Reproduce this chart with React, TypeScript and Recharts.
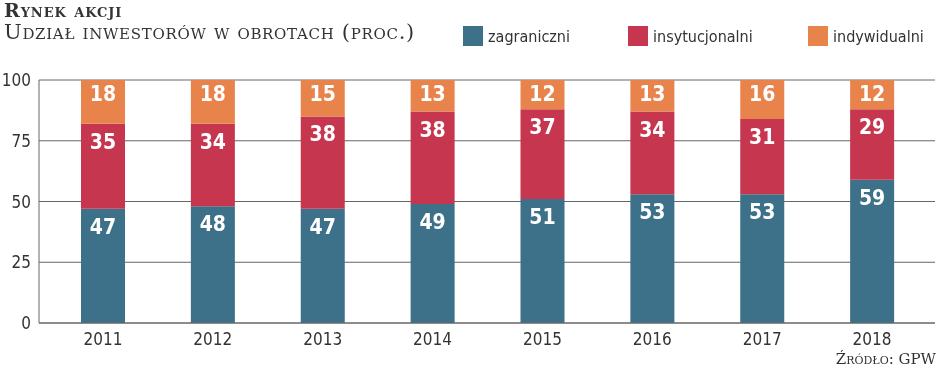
import { Bar, BarChart, CartesianGrid, LabelList, XAxis, YAxis } from "recharts";

const years = ["2011", "2012", "2013", "2014", "2015", "2016", "2017", "2018"];
const zagraniczni = [47, 48, 47, 49, 51, 53, 53, 59];
const instytucjonalni = [35, 34, 38, 38, 37, 34, 31, 29];
const indywidualni = [18, 18, 15, 13, 12, 13, 16, 12];
const yTicks = [0, 25, 50, 75, 100];

const BLUE = "#3d7089";
const RED = "#c6364f";
const ORANGE = "#e8834b";
const FONT = "'DejaVu Sans Condensed', 'DejaVu Sans', sans-serif";
const SERIF = "'DejaVu Serif', serif";

const data = years.map((y, i) => ({
  year: y,
  zag: zagraniczni[i],
  ins: instytucjonalni[i],
  ind: indywidualni[i],
}));

const legend = [
  { label: "zagraniczni", color: BLUE, x: 463 },
  { label: "insytucjonalni", color: RED, x: 628 },
  { label: "indywidualni", color: ORANGE, x: 808 },
];

const labelStyle = { fill: "#fff", fontSize: 21, fontWeight: "bold" as const, fontFamily: FONT };

export default function App() {
  return (
    <div style={{ position: "fixed", left: 0, top: 0, width: 948, height: 369, background: "#fff" }}>
      <div
        style={{
          position: "absolute",
          left: 4,
          top: 0,
          fontFamily: SERIF,
          fontVariant: "small-caps",
          color: "#333",
        }}
      >
        <div style={{ fontWeight: "bold", fontSize: 19, lineHeight: "20px", letterSpacing: 0.9 }}>Rynek akcji</div>
        <div style={{ fontSize: 21, lineHeight: "23px", marginTop: 1, letterSpacing: 0.7 }}>
          Udział inwestorów w obrotach (proc.)
        </div>
      </div>
      {legend.map((l) => (
        <div
          key={l.label}
          style={{
            position: "absolute",
            left: l.x,
            top: 26,
            display: "flex",
            alignItems: "center",
            fontFamily: FONT,
            fontSize: 16,
            color: "#333",
          }}
        >
          <span style={{ width: 20, height: 20, background: l.color, marginRight: 5, display: "inline-block" }} />
          {l.label}
        </div>
      ))}
      <div
        style={{
          position: "absolute",
          right: 12,
          top: 350,
          fontFamily: SERIF,
          fontVariant: "small-caps",
          fontSize: 15,
          color: "#333",
        }}
      >
        Źródło: GPW
      </div>
      <BarChart
        width={948}
        height={369}
        data={data}
        margin={{ top: 80, right: 13, left: 0, bottom: 16 }}
        barSize={44}
      >
        <CartesianGrid vertical={false} stroke="#666" strokeWidth={1} />
        <XAxis
          dataKey="year"
          height={30}
          padding={{ left: 9, right: 8 }}
          axisLine={{ stroke: "#666" }}
          tickLine={false}
          tick={{ fill: "#333", fontSize: 17, fontFamily: FONT }}
          dy={2}
        />
        <YAxis
          domain={[0, 100]}
          ticks={yTicks}
          width={39}
          axisLine={{ stroke: "#666" }}
          tickLine={false}
          tick={{ fill: "#333", fontSize: 17, fontFamily: FONT }}
          interval={0}
        />
        <Bar dataKey="zag" stackId="a" fill={BLUE} isAnimationActive={false}>
          <LabelList dataKey="zag" position="insideTop" offset={10} style={labelStyle} />
        </Bar>
        <Bar dataKey="ins" stackId="a" fill={RED} isAnimationActive={false}>
          <LabelList dataKey="ins" position="insideTop" offset={10} style={labelStyle} />
        </Bar>
        <Bar dataKey="ind" stackId="a" fill={ORANGE} isAnimationActive={false}>
          <LabelList dataKey="ind" position="insideTop" offset={6} style={labelStyle} />
        </Bar>
      </BarChart>
    </div>
  );
}
